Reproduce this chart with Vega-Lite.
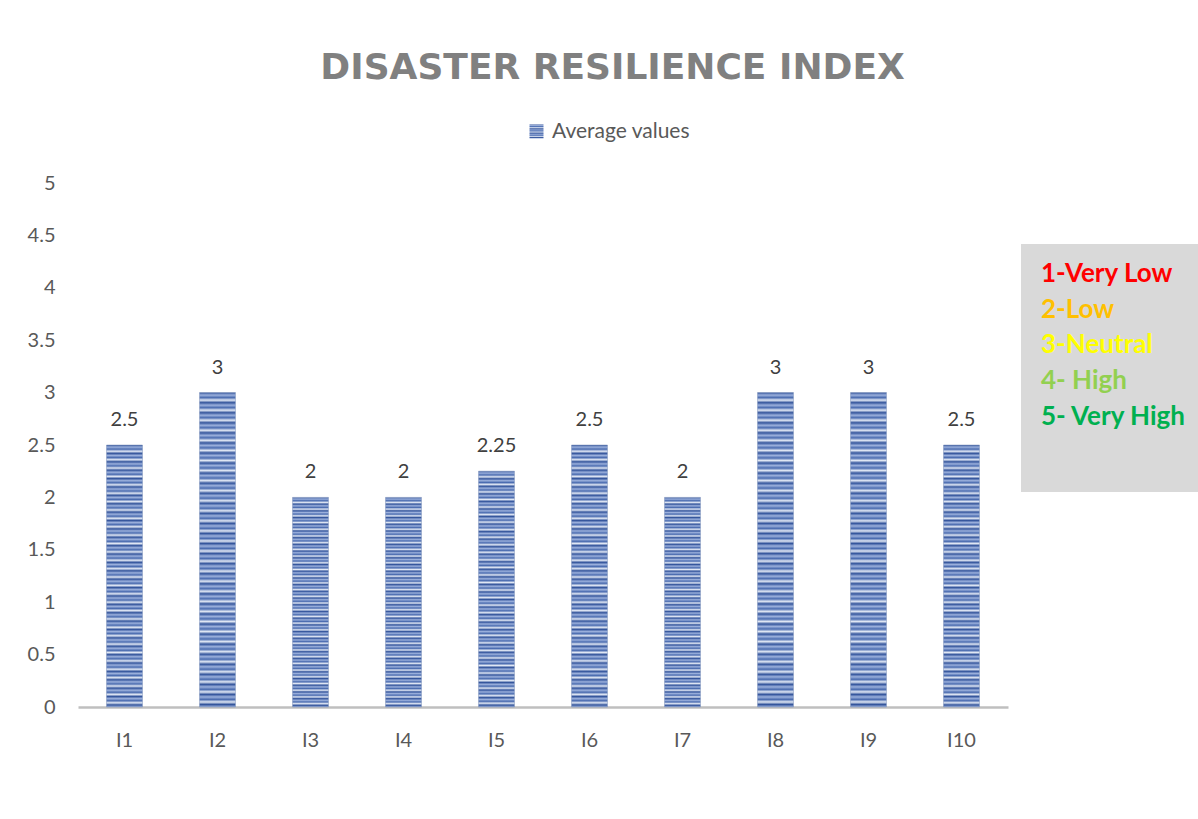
{
  "$schema": "https://vega.github.io/schema/vega-lite/v6.json",
  "background": "white",
  "padding": {"left": 27, "top": 50, "right": 0, "bottom": 0},
  "title": {
    "text": "DISASTER RESILIENCE INDEX",
    "font": "DejaVu Sans",
    "fontSize": 36,
    "fontWeight": "bold",
    "color": "#808080",
    "anchor": "middle",
    "offset": 34
  },
  "datasets": {
    "indicators": [
      {"indicator": "I1", "value": 2.5, "series": "Average values"},
      {"indicator": "I2", "value": 3, "series": "Average values"},
      {"indicator": "I3", "value": 2, "series": "Average values"},
      {"indicator": "I4", "value": 2, "series": "Average values"},
      {"indicator": "I5", "value": 2.25, "series": "Average values"},
      {"indicator": "I6", "value": 2.5, "series": "Average values"},
      {"indicator": "I7", "value": 2, "series": "Average values"},
      {"indicator": "I8", "value": 3, "series": "Average values"},
      {"indicator": "I9", "value": 3, "series": "Average values"},
      {"indicator": "I10", "value": 2.5, "series": "Average values"}
    ],
    "ratingKey": [
      {"level": 1, "label": "1-Very Low"},
      {"level": 2, "label": "2-Low"},
      {"level": 3, "label": "3-Neutral"},
      {"level": 4, "label": "4- High"},
      {"level": 5, "label": "5- Very High"}
    ]
  },
  "spacing": 13,
  "hconcat": [
    {
      "width": 930,
      "height": 524,
      "data": {"name": "indicators"},
      "encoding": {
        "x": {
          "field": "indicator",
          "type": "nominal",
          "sort": null,
          "scale": {"paddingInner": 0.613, "paddingOuter": 0.3065},
          "axis": {
            "title": null,
            "labelAngle": 0,
            "labelFont": "Lato",
            "labelFontSize": 20,
            "labelColor": "#595959",
            "labelPadding": 23,
            "ticks": false,
            "domainColor": "#bfbfbf",
            "domainWidth": 2.5,
            "grid": false
          }
        },
        "y": {
          "field": "value",
          "type": "quantitative",
          "scale": {"domain": [0, 5], "nice": false},
          "axis": {
            "title": null,
            "values": [0, 0.5, 1, 1.5, 2, 2.5, 3, 3.5, 4, 4.5, 5],
            "format": "~g",
            "labelFont": "Lato",
            "labelFontSize": 20,
            "labelColor": "#595959",
            "labelPadding": 23,
            "ticks": false,
            "domain": false,
            "grid": false
          }
        }
      },
      "layer": [
        {
          "mark": {
            "type": "bar",
            "stroke": "#7f92ba",
            "strokeWidth": 0.5,
            "fill": {
              "gradient": "linear",
              "x1": 0, "y1": 0, "x2": 0, "y2": 1,
              "stops": [
                {"offset": 0, "color": "#34559c"}, {"offset": 0.008, "color": "#9bb0dc"}, {"offset": 0.016, "color": "#4b6cb0"}, {"offset": 0.024, "color": "#e0e7f4"},
                {"offset": 0.032, "color": "#34559c"}, {"offset": 0.04, "color": "#9bb0dc"}, {"offset": 0.048, "color": "#4b6cb0"}, {"offset": 0.056, "color": "#e0e7f4"},
                {"offset": 0.064, "color": "#34559c"}, {"offset": 0.072, "color": "#9bb0dc"}, {"offset": 0.08, "color": "#4b6cb0"}, {"offset": 0.088, "color": "#e0e7f4"},
                {"offset": 0.096, "color": "#34559c"}, {"offset": 0.104, "color": "#9bb0dc"}, {"offset": 0.112, "color": "#4b6cb0"}, {"offset": 0.12, "color": "#e0e7f4"},
                {"offset": 0.128, "color": "#34559c"}, {"offset": 0.136, "color": "#9bb0dc"}, {"offset": 0.144, "color": "#4b6cb0"}, {"offset": 0.152, "color": "#e0e7f4"},
                {"offset": 0.16, "color": "#34559c"}, {"offset": 0.168, "color": "#9bb0dc"}, {"offset": 0.176, "color": "#4b6cb0"}, {"offset": 0.184, "color": "#e0e7f4"},
                {"offset": 0.192, "color": "#34559c"}, {"offset": 0.2, "color": "#9bb0dc"}, {"offset": 0.208, "color": "#4b6cb0"}, {"offset": 0.216, "color": "#e0e7f4"},
                {"offset": 0.224, "color": "#34559c"}, {"offset": 0.232, "color": "#9bb0dc"}, {"offset": 0.24, "color": "#4b6cb0"}, {"offset": 0.248, "color": "#e0e7f4"},
                {"offset": 0.256, "color": "#34559c"}, {"offset": 0.264, "color": "#9bb0dc"}, {"offset": 0.272, "color": "#4b6cb0"}, {"offset": 0.28, "color": "#e0e7f4"},
                {"offset": 0.288, "color": "#34559c"}, {"offset": 0.296, "color": "#9bb0dc"}, {"offset": 0.304, "color": "#4b6cb0"}, {"offset": 0.312, "color": "#e0e7f4"},
                {"offset": 0.32, "color": "#34559c"}, {"offset": 0.328, "color": "#9bb0dc"}, {"offset": 0.336, "color": "#4b6cb0"}, {"offset": 0.344, "color": "#e0e7f4"},
                {"offset": 0.352, "color": "#34559c"}, {"offset": 0.36, "color": "#9bb0dc"}, {"offset": 0.368, "color": "#4b6cb0"}, {"offset": 0.376, "color": "#e0e7f4"},
                {"offset": 0.384, "color": "#34559c"}, {"offset": 0.392, "color": "#9bb0dc"}, {"offset": 0.4, "color": "#4b6cb0"}, {"offset": 0.408, "color": "#e0e7f4"},
                {"offset": 0.416, "color": "#34559c"}, {"offset": 0.424, "color": "#9bb0dc"}, {"offset": 0.432, "color": "#4b6cb0"}, {"offset": 0.44, "color": "#e0e7f4"},
                {"offset": 0.448, "color": "#34559c"}, {"offset": 0.456, "color": "#9bb0dc"}, {"offset": 0.464, "color": "#4b6cb0"}, {"offset": 0.472, "color": "#e0e7f4"},
                {"offset": 0.48, "color": "#34559c"}, {"offset": 0.488, "color": "#9bb0dc"}, {"offset": 0.496, "color": "#4b6cb0"}, {"offset": 0.504, "color": "#e0e7f4"},
                {"offset": 0.512, "color": "#34559c"}, {"offset": 0.52, "color": "#9bb0dc"}, {"offset": 0.528, "color": "#4b6cb0"}, {"offset": 0.536, "color": "#e0e7f4"},
                {"offset": 0.544, "color": "#34559c"}, {"offset": 0.552, "color": "#9bb0dc"}, {"offset": 0.56, "color": "#4b6cb0"}, {"offset": 0.568, "color": "#e0e7f4"},
                {"offset": 0.576, "color": "#34559c"}, {"offset": 0.584, "color": "#9bb0dc"}, {"offset": 0.592, "color": "#4b6cb0"}, {"offset": 0.6, "color": "#e0e7f4"},
                {"offset": 0.608, "color": "#34559c"}, {"offset": 0.616, "color": "#9bb0dc"}, {"offset": 0.624, "color": "#4b6cb0"}, {"offset": 0.632, "color": "#e0e7f4"},
                {"offset": 0.64, "color": "#34559c"}, {"offset": 0.648, "color": "#9bb0dc"}, {"offset": 0.656, "color": "#4b6cb0"}, {"offset": 0.664, "color": "#e0e7f4"},
                {"offset": 0.672, "color": "#34559c"}, {"offset": 0.68, "color": "#9bb0dc"}, {"offset": 0.688, "color": "#4b6cb0"}, {"offset": 0.696, "color": "#e0e7f4"},
                {"offset": 0.704, "color": "#34559c"}, {"offset": 0.712, "color": "#9bb0dc"}, {"offset": 0.72, "color": "#4b6cb0"}, {"offset": 0.728, "color": "#e0e7f4"},
                {"offset": 0.736, "color": "#34559c"}, {"offset": 0.744, "color": "#9bb0dc"}, {"offset": 0.752, "color": "#4b6cb0"}, {"offset": 0.76, "color": "#e0e7f4"},
                {"offset": 0.768, "color": "#34559c"}, {"offset": 0.776, "color": "#9bb0dc"}, {"offset": 0.784, "color": "#4b6cb0"}, {"offset": 0.792, "color": "#e0e7f4"},
                {"offset": 0.8, "color": "#34559c"}, {"offset": 0.808, "color": "#9bb0dc"}, {"offset": 0.816, "color": "#4b6cb0"}, {"offset": 0.824, "color": "#e0e7f4"},
                {"offset": 0.832, "color": "#34559c"}, {"offset": 0.84, "color": "#9bb0dc"}, {"offset": 0.848, "color": "#4b6cb0"}, {"offset": 0.856, "color": "#e0e7f4"},
                {"offset": 0.864, "color": "#34559c"}, {"offset": 0.872, "color": "#9bb0dc"}, {"offset": 0.88, "color": "#4b6cb0"}, {"offset": 0.888, "color": "#e0e7f4"},
                {"offset": 0.896, "color": "#34559c"}, {"offset": 0.904, "color": "#9bb0dc"}, {"offset": 0.912, "color": "#4b6cb0"}, {"offset": 0.92, "color": "#e0e7f4"},
                {"offset": 0.928, "color": "#34559c"}, {"offset": 0.936, "color": "#9bb0dc"}, {"offset": 0.944, "color": "#4b6cb0"}, {"offset": 0.952, "color": "#e0e7f4"},
                {"offset": 0.96, "color": "#34559c"}, {"offset": 0.968, "color": "#9bb0dc"}, {"offset": 0.976, "color": "#4b6cb0"}, {"offset": 0.984, "color": "#e0e7f4"},
                {"offset": 0.992, "color": "#34559c"}, {"offset": 1, "color": "#9bb0dc"}
              ]
            }
          },
          "encoding": {
            "opacity": {
              "field": "series",
              "type": "nominal",
              "scale": {"range": [1, 1]},
              "legend": {
                "title": null,
                "orient": "none",
                "legendX": 448,
                "legendY": -62,
                "symbolType": "square",
                "symbolSize": 196,
                "symbolStrokeWidth": 0,
                "labelFont": "Lato",
                "labelFontSize": 21,
                "labelColor": "#595959",
                "labelOffset": 5
              }
            }
          }
        },
        {
          "mark": {"type": "text", "baseline": "middle", "dy": -25, "font": "Lato", "fontSize": 20, "color": "#404040"},
          "encoding": {
            "text": {"field": "value", "type": "quantitative"}
          }
        }
      ]
    },
    {
      "width": 177,
      "height": 309,
      "data": {"name": "ratingKey"},
      "resolve": {"scale": {"y": "independent"}},
      "layer": [
        {
          "mark": {"type": "rect", "color": "#d9d9d9"},
          "encoding": {
            "y": {
              "aggregate": "min",
              "field": "level",
              "type": "quantitative",
              "scale": {"domain": [0.016, 5], "reverse": true, "nice": false, "zero": false},
              "axis": null
            },
            "y2": {"aggregate": "max", "field": "level"}
          }
        },
        {
          "mark": {
            "type": "text",
            "align": "left",
            "baseline": "alphabetic",
            "dx": -68.5,
            "font": "Lato",
            "fontSize": 26,
            "fontWeight": "bold"
          },
          "encoding": {
            "y": {
              "field": "level",
              "type": "quantitative",
              "scale": {"domain": [-1.769, 6.874], "reverse": true, "nice": false, "zero": false},
              "axis": null
            },
            "text": {"field": "label"},
            "color": {
              "field": "label",
              "type": "nominal",
              "sort": null,
              "scale": {"range": ["#ff0000", "#ffc000", "#ffff00", "#92d050", "#00b050"]},
              "legend": null
            }
          }
        }
      ]
    }
  ],
  "config": {
    "view": {"stroke": null},
    "font": "Lato"
  }
}
